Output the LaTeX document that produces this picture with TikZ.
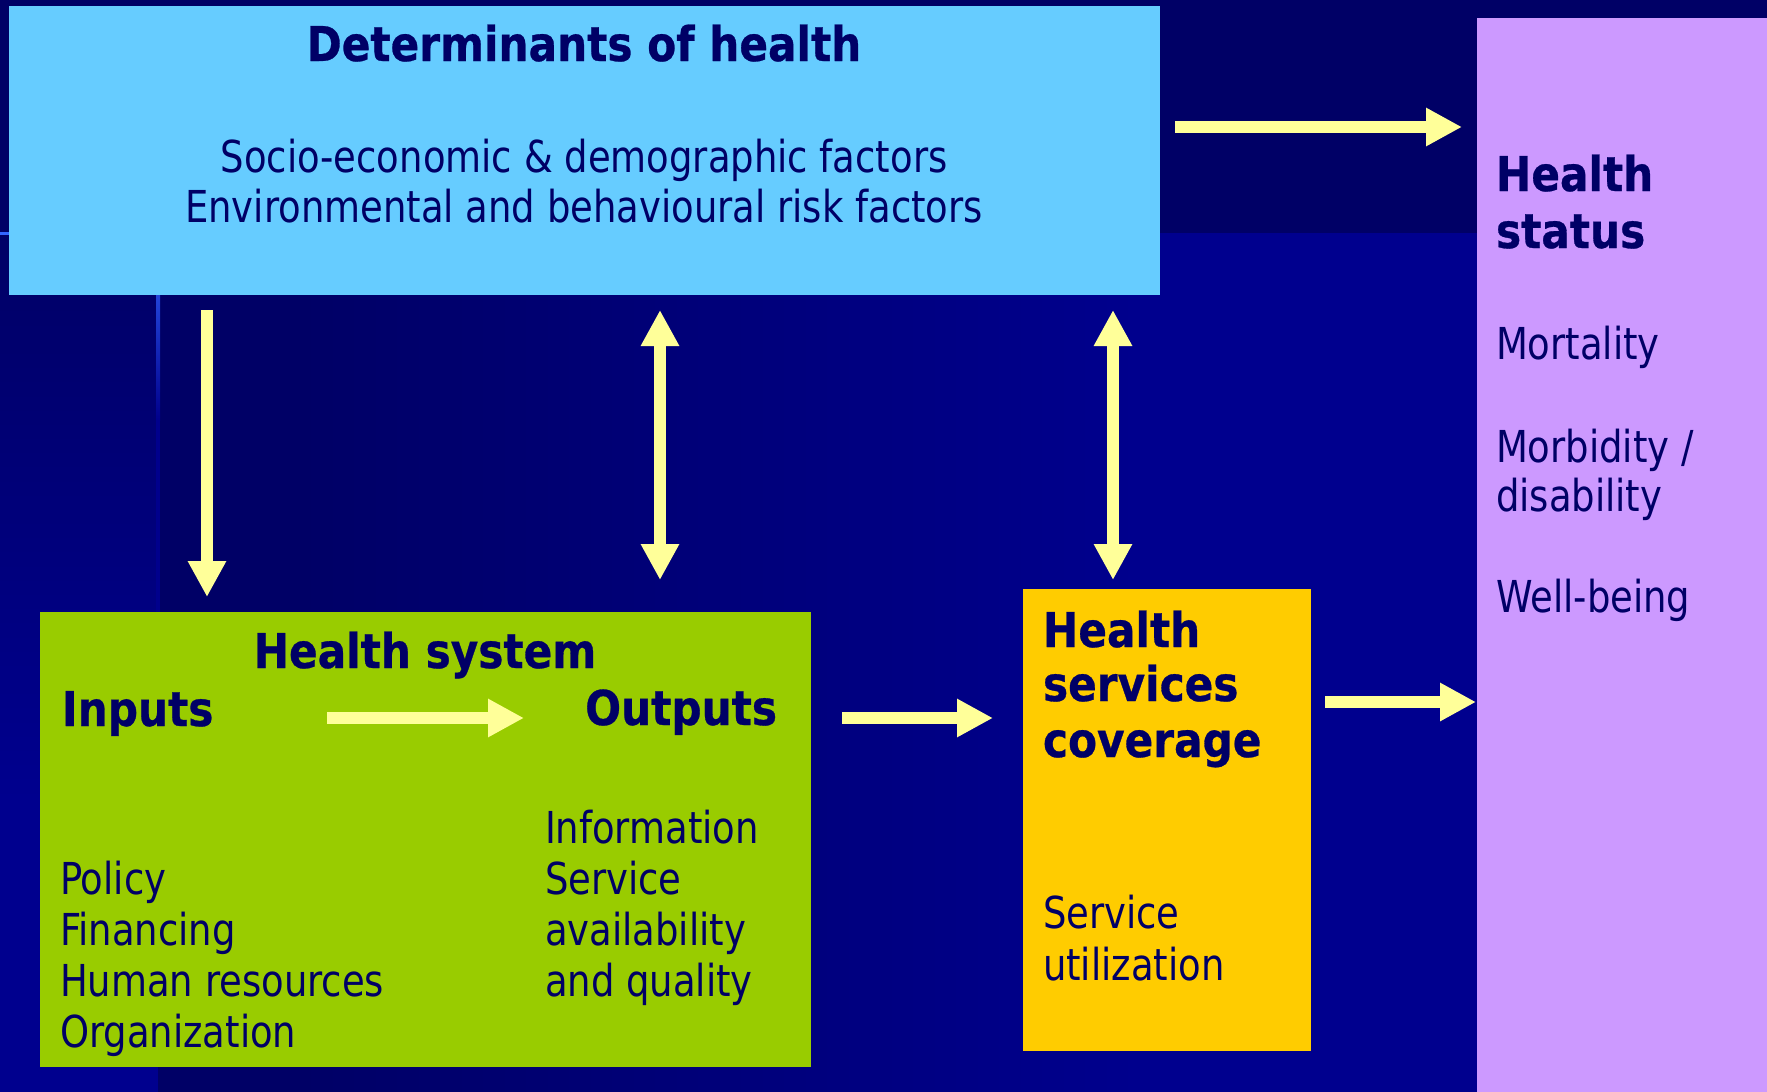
\documentclass[tikz,border=0pt]{standalone}
\usepackage{fontspec}
\setmainfont{DejaVu Sans}[FakeStretch=0.84]
\newfontfamily\bdfont{DejaVu Sans}[FakeStretch=0.88, FakeBold=0.6]
\usetikzlibrary{arrows.meta}
\definecolor{navy}{HTML}{000066}
\definecolor{bglow}{HTML}{00008E}
\definecolor{lineblue}{HTML}{3366FF}
\definecolor{linedark}{HTML}{00008C}
\definecolor{detblue}{HTML}{66CCFF}
\definecolor{hsgreen}{HTML}{99CC00}
\definecolor{covorange}{HTML}{FFCC00}
\definecolor{statpurple}{HTML}{CC99FF}
\definecolor{arrowyellow}{HTML}{FFFF99}
\begin{document}
\begin{tikzpicture}[x=1pt,y=-1pt,
  box/.style={draw=none, inner sep=0pt, outer sep=0pt, anchor=north west},
  bigarrow/.style={draw=arrowyellow, line width=12pt, -{Triangle[width=36pt,length=36pt]}},
  dblarrow/.style={draw=arrowyellow, line width=12pt, {Triangle[width=36pt,length=36pt]}-{Triangle[width=36pt,length=36pt]}},
  rg/.style={inner sep=0pt, outer sep=0pt, text=navy, font=\fontsize{44}{52}\selectfont},
  bd/.style={inner sep=0pt, outer sep=0pt, text=navy, font=\bdfont\bfseries\fontsize{48}{56}\selectfont},
]
% background
\useasboundingbox (0,0) rectangle (1767,1092);
\fill[navy] (0,0) rectangle (1767,1092);
\fill[bglow] (1160,233) rectangle (1767,1092);
\shade[left color=navy, right color=bglow] (300,233) rectangle (1160,1092);
\shade[top color=navy, bottom color=bglow] (0,233) rectangle (158,800);
\fill[bglow] (0,799) rectangle (158,1092);
\fill[lineblue] (0,232) rectangle (158,235);
\shade[top color=lineblue, bottom color=linedark] (156,233) rectangle (160,420);
\fill[linedark] (156,420) rectangle (160,700);

% boxes
\node[box, fill=detblue, minimum width=1151pt, minimum height=289pt] (det) at (9,6) {};
\node[box, fill=hsgreen, minimum width=771pt, minimum height=455pt] (hsys) at (40,612) {};
\node[box, fill=covorange, minimum width=288pt, minimum height=462pt] (cov) at (1023,589) {};
\node[box, fill=statpurple, minimum width=290pt, minimum height=1074pt] (stat) at (1477,18) {};

% determinants text
\node[bd, anchor=base] (dettitle) at (584,61) {Determinants of health};
\node[rg, anchor=base] (detl1) at (584,172) {Socio-economic \& demographic factors};
\node[rg, anchor=base] (detl2) at (584,222) {Environmental and behavioural risk factors};

% health system text
\node[bd, anchor=base] (hstitle) at (425,668) {Health system};
\node[bd, anchor=base west] (inputs) at (62,726) {Inputs};
\node[bd, anchor=base east] (outputs) at (777,725) {Outputs};
\node[rg, anchor=base west] (in1) at (60,894) {Policy};
\node[rg, anchor=base west] (in2) at (60,945) {Financing};
\node[rg, anchor=base west] (in3) at (60,996) {Human resources};
\node[rg, anchor=base west] (in4) at (60,1047) {Organization};
\node[rg, anchor=base west] (out1) at (545,843) {Information};
\node[rg, anchor=base west] (out2) at (545,894) {Service};
\node[rg, anchor=base west] (out3) at (545,945) {availability};
\node[rg, anchor=base west] (out4) at (545,996) {and quality};

% coverage text
\node[bd, anchor=base west] (cov1) at (1043,647) {Health};
\node[bd, anchor=base west] (cov2) at (1043,701) {services};
\node[bd, anchor=base west] (cov3) at (1043,757) {coverage};
\node[rg, anchor=base west] (cov4) at (1043,928) {Service};
\node[rg, anchor=base west] (cov5) at (1043,980) {utilization};

% status text
\node[bd, anchor=base west] (st1) at (1496,191) {Health};
\node[bd, anchor=base west] (st2) at (1496,248) {status};
\node[rg, anchor=base west] (st3) at (1496,359) {Mortality};
\node[rg, anchor=base west] (st4) at (1496,462) {Morbidity /};
\node[rg, anchor=base west] (st5) at (1496,511) {disability};
\node[rg, anchor=base west] (st6) at (1496,612) {Well-being};

% arrow guide coordinates
\coordinate (ytop) at (0,127);
\coordinate (xdown) at (207,0);
\coordinate (xmid) at (660,0);
\coordinate (xright) at (1113,0);
\coordinate (yhs) at (0,718);
\coordinate (ycov) at (0,702);
\coordinate (io1) at (327,718);
\coordinate (io2) at (524,718);

% arrows
\draw[bigarrow, shorten <=15pt, shorten >=15pt] (det.east |- ytop) -- (stat.west |- ytop);
\draw[bigarrow, shorten <=15pt, shorten >=15pt] (det.south -| xdown) -- (hsys.north -| xdown);
\draw[dblarrow, shorten <=15pt, shorten >=32pt] (det.south -| xmid) -- (hsys.north -| xmid);
\draw[dblarrow, shorten <=15pt, shorten >=9pt] (det.south -| xright) -- (cov.north -| xright);
\draw[bigarrow] (io1) -- (io2);
\draw[bigarrow, shorten <=31pt, shorten >=30pt] (hsys.east |- yhs) -- (cov.west |- yhs);
\draw[bigarrow, shorten <=14pt, shorten >=1pt] (cov.east |- ycov) -- (stat.west |- ycov);
\end{tikzpicture}
\end{document}
